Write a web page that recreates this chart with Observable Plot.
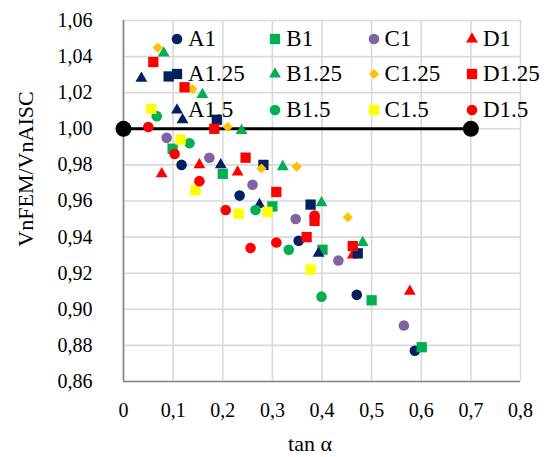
<!DOCTYPE html>
<html><head><meta charset="utf-8">
<script src="https://cdn.jsdelivr.net/npm/d3@7"></script>
<script src="https://cdn.jsdelivr.net/npm/@observablehq/plot@0.6"></script>
<style>
body{margin:0;background:#fff;}
#wrap{position:relative;width:547px;height:457px;font-family:"Liberation Serif","Times New Roman",serif;}
.legend{position:absolute;left:170px;top:21px;display:grid;grid-template-columns:repeat(4,98.3px);grid-auto-rows:35.5px;}
.item{display:flex;align-items:center;font-size:23px;color:#000;white-space:nowrap;}
.item svg{margin-right:4px;flex:none;}
.ytitle{position:absolute;left:26px;top:169px;transform:translate(-50%,-50%) rotate(-90deg);font-size:22px;white-space:nowrap;}
.xtitle{position:absolute;left:310px;top:444px;transform:translate(-50%,-50%);font-size:22px;white-space:nowrap;}
</style></head>
<body><div id="wrap"></div>
<script>
// tick values
const xTicks = [0, 0.1, 0.2, 0.3, 0.4, 0.5, 0.6, 0.7, 0.8];
const yTicks = [0.86, 0.88, 0.90, 0.92, 0.94, 0.96, 0.98, 1.00, 1.02, 1.04, 1.06];
// reference line (tan α, ratio)
const refX = [0, 0.7];
const refY = [1.0, 1.0];
// series in legend order
const seriesNames = ["A1","B1","C1","D1","A1.25","B1.25","C1.25","D1.25","A1.5","B1.5","C1.5","D1.5"];
// points [tan α, VnFEM/VnAISC]
const ptsA1   = [[0.117,0.980],[0.234,0.963],[0.353,0.938],[0.470,0.908],[0.587,0.877]];
const ptsA125 = [[0.091,1.029],[0.188,1.005],[0.282,0.980],[0.377,0.958],[0.472,0.931]];
const ptsA15  = [[0.036,1.028],[0.119,1.005],[0.196,0.980],[0.274,0.958],[0.393,0.931]];
const ptsB1   = [[0.099,0.989],[0.200,0.975],[0.300,0.957],[0.401,0.933],[0.500,0.905],[0.601,0.879]];
const ptsB125 = [[0.081,1.042],[0.159,1.019],[0.238,0.999],[0.321,0.979],[0.399,0.959],[0.482,0.937]];
const ptsB15  = [[0.067,1.007],[0.133,0.992],[0.266,0.955],[0.333,0.933],[0.399,0.907]];
const ptsC1   = [[0.087,0.995],[0.173,0.984],[0.260,0.969],[0.347,0.950],[0.433,0.927],[0.565,0.891]];
const ptsC125 = [[0.069,1.045],[0.139,1.022],[0.210,1.001],[0.278,0.978],[0.349,0.979],[0.452,0.951]];
const ptsC15  = [[0.056,1.011],[0.115,0.994],[0.145,0.966],[0.232,0.953],[0.290,0.954],[0.377,0.922]];
const ptsD1   = [[0.077,0.975],[0.153,0.980],[0.230,0.976],[0.462,0.930],[0.577,0.910]];
const ptsD125 = [[0.060,1.037],[0.123,1.023],[0.183,1.000],[0.246,0.984],[0.308,0.965],[0.385,0.949],[0.369,0.940],[0.462,0.935]];
const ptsD15  = [[0.050,1.001],[0.103,0.986],[0.153,0.971],[0.206,0.955],[0.256,0.934],[0.308,0.937],[0.385,0.952]];

const seriesPoints = {"A1":ptsA1,"B1":ptsB1,"C1":ptsC1,"D1":ptsD1,"A1.25":ptsA125,"B1.25":ptsB125,"C1.25":ptsC125,"D1.25":ptsD125,"A1.5":ptsA15,"B1.5":ptsB15,"C1.5":ptsC15,"D1.5":ptsD15};

// styles
const NAVY="#002060", GREEN="#00B050", PURPLE="#8064A2", ORANGE="#FFC000", YELLOW="#FFFF00", RED="#FF0000";
const style = {
  "A1":{fill:NAVY,symbol:"circle"}, "A1.25":{fill:NAVY,symbol:"square"}, "A1.5":{fill:NAVY,symbol:"triangle"},
  "B1":{fill:GREEN,symbol:"square"}, "B1.25":{fill:GREEN,symbol:"triangle"}, "B1.5":{fill:GREEN,symbol:"circle"},
  "C1":{fill:PURPLE,symbol:"circle"}, "C1.25":{fill:ORANGE,symbol:"diamond2"}, "C1.5":{fill:YELLOW,symbol:"square"},
  "D1":{fill:RED,symbol:"triangle"}, "D1.25":{fill:RED,symbol:"square"}, "D1.5":{fill:RED,symbol:"circle"}
};
const symR = {circle:5.3, square:5.8, triangle:4.4, diamond2:4.6};
const d3Sym = {circle:d3.symbolCircle, square:d3.symbolSquare, triangle:d3.symbolTriangle, diamond2:d3.symbolDiamond2};

const marks = [
  Plot.gridX({ticks:xTicks, stroke:"#d9d9d9", strokeOpacity:1, strokeWidth:1.6}),
  Plot.gridY({ticks:yTicks, stroke:"#d9d9d9", strokeOpacity:1, strokeWidth:1.6}),
  Plot.ruleX([0], {stroke:"#868686", strokeWidth:1.6}),
  Plot.ruleY([0.86], {stroke:"#868686", strokeWidth:1.6}),
  Plot.line(refX.map((x,i)=>[x,refY[i]]), {x:d=>d[0], y:d=>d[1], stroke:"#000", strokeWidth:3}),
  Plot.dot(refX.map((x,i)=>[x,refY[i]]), {x:d=>d[0], y:d=>d[1], r:8, fill:"#000"}),
  ...seriesNames.map(n => Plot.dot(seriesPoints[n], {x:d=>d[0], y:d=>d[1], symbol:style[n].symbol, fill:style[n].fill, r:symR[style[n].symbol]})),
  Plot.axisX({ticks:xTicks, tickSize:0, tickPadding:21, tickFormat:d=>String(d).replace(".",","), label:null, fontSize:20}),
  Plot.axisY({ticks:yTicks, tickSize:0, tickPadding:31, tickFormat:d=>d.toFixed(2).replace(".",","), label:null, fontSize:20})
];

const chart = Plot.plot({
  width:547, height:457,
  marginLeft:123, marginRight:27, marginTop:20, marginBottom:76,
  x:{domain:[0,0.8]}, y:{domain:[0.86,1.06]},
  style:{fontFamily:'"Liberation Serif","Times New Roman",serif', fontSize:"20px", color:"#000", background:"#fff"},
  marks
});
const wrap = document.getElementById("wrap");
wrap.appendChild(chart);

// legend
const leg = document.createElement("div"); leg.className="legend";
for (const n of seriesNames) {
  const it = document.createElement("div"); it.className="item";
  const s = style[n]; const r = symR[s.symbol];
  const path = d3.symbol(d3Sym[s.symbol], Math.PI*r*r)();
  it.innerHTML = `<svg width="14" height="14"><path transform="translate(7,7)" d="${path}" fill="${s.fill}"/></svg><span>${n}</span>`;
  leg.appendChild(it);
}
wrap.appendChild(leg);
const yt = document.createElement("div"); yt.className="ytitle"; yt.textContent="VnFEM/VnAISC"; wrap.appendChild(yt);
const xt = document.createElement("div"); xt.className="xtitle"; xt.textContent="tan α"; wrap.appendChild(xt);
</script></body></html>
